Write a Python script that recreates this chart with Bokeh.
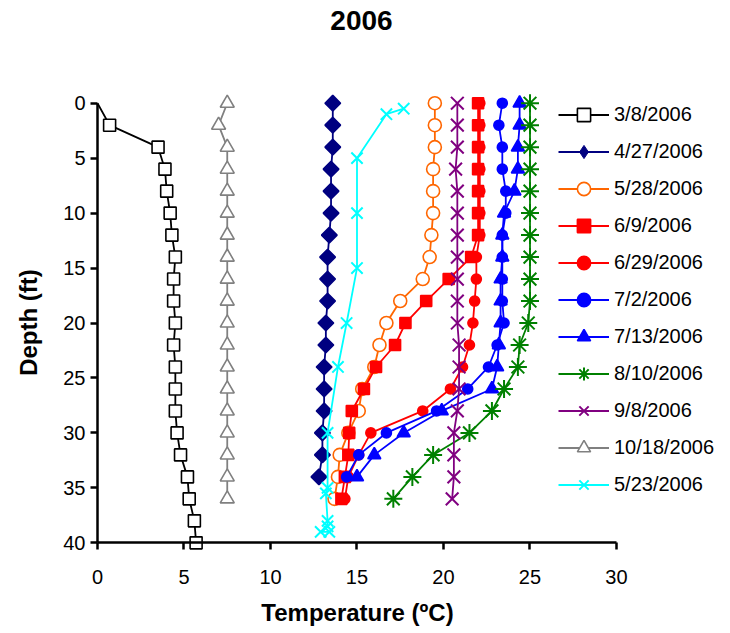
import math
from bokeh.plotting import figure
from bokeh.models import Range1d, Legend, LegendItem, Label, FixedTicker
from bokeh.embed import file_html
from bokeh.resources import INLINE

# ---------------- data ----------------
title_text = "2006"
x_title = "Temperature (ºC)"
y_title = "Depth (ft)"
x_ticks = [0, 5, 10, 15, 20, 25, 30]
y_ticks = [0, 5, 10, 15, 20, 25, 30, 35, 40]

series_names = ["3/8/2006", "4/27/2006", "5/28/2006", "6/9/2006", "6/29/2006",
                "7/2/2006", "7/13/2006", "8/10/2006", "9/8/2006", "10/18/2006", "5/23/2006"]

depth_0308 = [0, 2, 4, 6, 8, 10, 12, 14, 16, 18, 20, 22, 24, 26, 28, 30, 32, 34, 36, 38, 40]
temp_0308 = [0.0, 0.7, 3.5, 3.9, 4.0, 4.2, 4.3, 4.5, 4.4, 4.4, 4.5, 4.4, 4.5, 4.5, 4.5, 4.6, 4.8, 5.2, 5.3, 5.6, 5.7]

depth_0427 = [0, 2, 4, 6, 8, 10, 12, 14, 16, 18, 20, 22, 24, 26, 28, 30, 32, 34]
temp_0427 = [13.6, 13.6, 13.6, 13.5, 13.5, 13.5, 13.4, 13.3, 13.3, 13.3, 13.2, 13.2, 13.1, 13.1, 13.1, 13.0, 13.0, 12.8]

depth_0528 = [0, 2, 4, 6, 8, 10, 12, 14, 16, 18, 20, 22, 24, 26, 28, 30, 32, 34, 36]
temp_0528 = [19.5, 19.5, 19.5, 19.4, 19.4, 19.4, 19.3, 19.2, 18.8, 17.5, 16.7, 16.3, 16.0, 15.3, 15.1, 14.5, 14.0, 13.9, 13.7]

depth_0609 = [0, 2, 4, 6, 8, 10, 12, 14, 16, 18, 20, 22, 24, 26, 28, 30, 32, 34, 36]
temp_0609 = [22.0, 22.0, 22.0, 22.0, 22.0, 22.0, 22.0, 21.6, 20.3, 19.0, 17.8, 17.2, 16.1, 15.4, 14.7, 14.55, 14.5, 14.3, 14.1]

depth_0629 = [0, 2, 4, 6, 8, 10, 12, 14, 16, 18, 20, 22, 24, 26, 28, 30, 32, 34, 36]
temp_0629 = [22.1, 22.1, 22.1, 22.1, 22.1, 22.1, 22.1, 21.9, 21.9, 21.8, 21.7, 21.5, 21.1, 20.4, 18.8, 15.8, 15.1, 14.5, 14.3]

depth_0702 = [0, 2, 4, 6, 8, 10, 12, 14, 16, 18, 20, 22, 24, 26, 28, 30, 32, 34]
temp_0702 = [23.4, 23.2, 23.4, 23.4, 23.6, 23.6, 23.4, 23.4, 23.4, 23.4, 23.5, 23.1, 22.6, 21.4, 19.6, 16.7, 15.1, 14.4]

depth_0713 = [0, 2, 4, 6, 8, 10, 12, 14, 16, 18, 20, 22, 24, 26, 28, 30, 32, 34]
temp_0713 = [24.4, 24.4, 24.3, 24.3, 24.1, 23.5, 23.4, 23.4, 23.3, 23.3, 23.3, 23.2, 23.1, 22.8, 19.9, 17.7, 16.0, 15.0]

depth_0810 = [0, 2, 4, 6, 8, 10, 12, 14, 16, 18, 20, 22, 24, 26, 28, 30, 32, 34, 36]
temp_0810 = [25.0, 25.0, 25.0, 25.0, 25.0, 25.0, 25.0, 25.0, 25.0, 25.0, 24.9, 24.4, 24.3, 23.5, 22.8, 21.5, 19.4, 18.2, 17.1]

depth_0908 = [0, 2, 4, 6, 8, 10, 12, 14, 16, 18, 20, 22, 24, 26, 28, 30, 32, 34, 36]
temp_0908 = [20.8, 20.8, 20.8, 20.7, 20.8, 20.8, 20.8, 20.8, 20.8, 20.8, 20.8, 20.9, 20.9, 20.9, 20.8, 20.6, 20.6, 20.6, 20.5]

depth_1018 = [0, 2, 4, 6, 8, 10, 12, 14, 16, 18, 20, 22, 24, 26, 28, 30, 32, 34, 36]
temp_1018 = [7.5, 7.0, 7.5, 7.5, 7.5, 7.5, 7.5, 7.5, 7.5, 7.5, 7.5, 7.5, 7.5, 7.5, 7.5, 7.5, 7.5, 7.5, 7.5]

depth_0523 = [0.5, 1, 5, 10, 15, 20, 24, 30, 35, 35.5, 38, 38.5, 39, 39]
temp_0523 = [17.7, 16.7, 15.0, 15.0, 15.0, 14.4, 13.9, 13.3, 13.3, 13.2, 13.3, 13.3, 12.9, 13.4]

series_depths = [depth_0308, depth_0427, depth_0528, depth_0609, depth_0629, depth_0702,
                 depth_0713, depth_0810, depth_0908, depth_1018, depth_0523]
series_temps = [temp_0308, temp_0427, temp_0528, temp_0609, temp_0629, temp_0702,
                temp_0713, temp_0810, temp_0908, temp_1018, temp_0523]
# first point of 3/8 series is drawn without a marker
marker_start = [1, 0, 0, 0, 0, 0, 0, 0, 0, 0, 0]

# ---------------- styles ----------------
styles = [
    dict(color="#000000", marker="square", size=12, fill="white", angle=0, lmarker="square", lw=1.6),
    dict(color="#000080", marker="square", size=11, fill="#000080", angle=math.pi / 4, lmarker="diamond", lw=1.6),
    dict(color="#FF6600", marker="circle", size=13, fill="white", angle=0, lmarker="circle", lw=1.6),
    dict(color="#FF0000", marker="square", size=11, fill="#FF0000", angle=0, lmarker="square", lw=1.6),
    dict(color="#FF0000", marker="circle", size=10, fill="#FF0000", angle=0, lmarker="circle", lw=1.6),
    dict(color="#0000FF", marker="circle", size=10, fill="#0000FF", angle=0, lmarker="circle", lw=1.6),
    dict(color="#0000FF", marker="triangle", size=13, fill="#0000FF", angle=0, lmarker="triangle", lw=1.6),
    dict(color="#008000", marker="asterisk", size=18, fill="#008000", angle=0, lmarker="asterisk", lw=2.0),
    dict(color="#800080", marker="x", size=18, fill="#800080", angle=0, lmarker="x", lw=2.0),
    dict(color="#808080", marker="triangle", size=14, fill="white", angle=0, lmarker="triangle", lw=1.6),
    dict(color="#00FFFF", marker="x", size=16, fill="#00FFFF", angle=0, lmarker="x", lw=2.0),
]

FONT = "Liberation Sans"

# The frame covers the whole canvas; the axes are pinned at depth 40 / temperature 0
# (fixed_location) and bounded to the data ranges, so titles and legend live in the frame.
p = figure(width=730, height=633, output_backend="svg", toolbar_location=None,
           x_range=Range1d(-5.607, 36.59), y_range=Range1d(48.25, -9.345),
           min_border_left=0, min_border_right=0, min_border_top=0, min_border_bottom=0)
p.outline_line_color = None
p.xgrid.visible = False
p.ygrid.visible = False
p.background_fill_color = "white"
p.border_fill_color = "white"

for ax in (p.xaxis[0], p.yaxis[0]):
    ax.axis_line_width = 2.5
    ax.axis_line_color = "black"
    ax.major_tick_line_width = 2.5
    ax.major_tick_line_color = "black"
    ax.major_tick_out = 7
    ax.major_tick_in = 0
    ax.minor_tick_line_color = None
    ax.major_label_text_font = FONT
    ax.major_label_text_font_size = "20px"
    ax.major_label_text_color = "black"

p.xaxis[0].fixed_location = y_ticks[-1]
p.yaxis[0].fixed_location = x_ticks[0]
p.xaxis[0].bounds = (x_ticks[0], x_ticks[-1])
p.yaxis[0].bounds = (y_ticks[0], y_ticks[-1])
p.xaxis[0].ticker = FixedTicker(ticks=x_ticks)
p.yaxis[0].ticker = FixedTicker(ticks=y_ticks)
p.xaxis[0].major_label_standoff = 20
p.yaxis[0].major_label_standoff = 5

items = []
for name, d, t, st, ms in zip(series_names, series_depths, series_temps, styles, marker_start):
    lr = p.line(t, d, line_color=st["color"], line_width=1.8)
    leg_r = None
    if st["lmarker"] != st["marker"]:
        # diamond renderer used for the legend; hidden under the rotated squares in the plot
        leg_r = p.scatter(t[ms:], d[ms:], marker=st["lmarker"], size=11, line_color=st["color"],
                          fill_color=st["fill"], line_width=1.0)
    sr = p.scatter(t[ms:], d[ms:], marker=st["marker"], size=st["size"], angle=st["angle"],
                   line_color=st["color"], fill_color=st["fill"], line_width=st["lw"])
    items.append(LegendItem(label=name, renderers=[lr, leg_r if leg_r is not None else sr]))

legend = Legend(items=items, location=(558, 132), orientation="vertical",
                glyph_width=51, glyph_height=33, label_height=33, spacing=4,
                label_standoff=5, padding=0, margin=0,
                label_text_font=FONT, label_text_font_size="20px", label_text_color="black",
                background_fill_alpha=0, border_line_alpha=0)
p.add_layout(legend, "center")

title = Label(x=361, y=613, x_units="screen", y_units="screen", text=title_text,
              text_font=FONT, text_font_size="28px", text_font_style="bold",
              text_align="center", text_baseline="middle", text_color="black")
p.add_layout(title)

xlab = Label(x=357, y=21, x_units="screen", y_units="screen", text=x_title,
             text_font=FONT, text_font_size="24px", text_font_style="bold",
             text_align="center", text_baseline="middle", text_color="black")
p.add_layout(xlab)

ylab = Label(x=28, y=311, x_units="screen", y_units="screen", text=y_title, angle=math.pi / 2,
             text_font=FONT, text_font_size="24px", text_font_style="bold",
             text_align="center", text_baseline="middle", text_color="black")
p.add_layout(ylab)

open("out.html", "w").write(file_html(p, INLINE))
